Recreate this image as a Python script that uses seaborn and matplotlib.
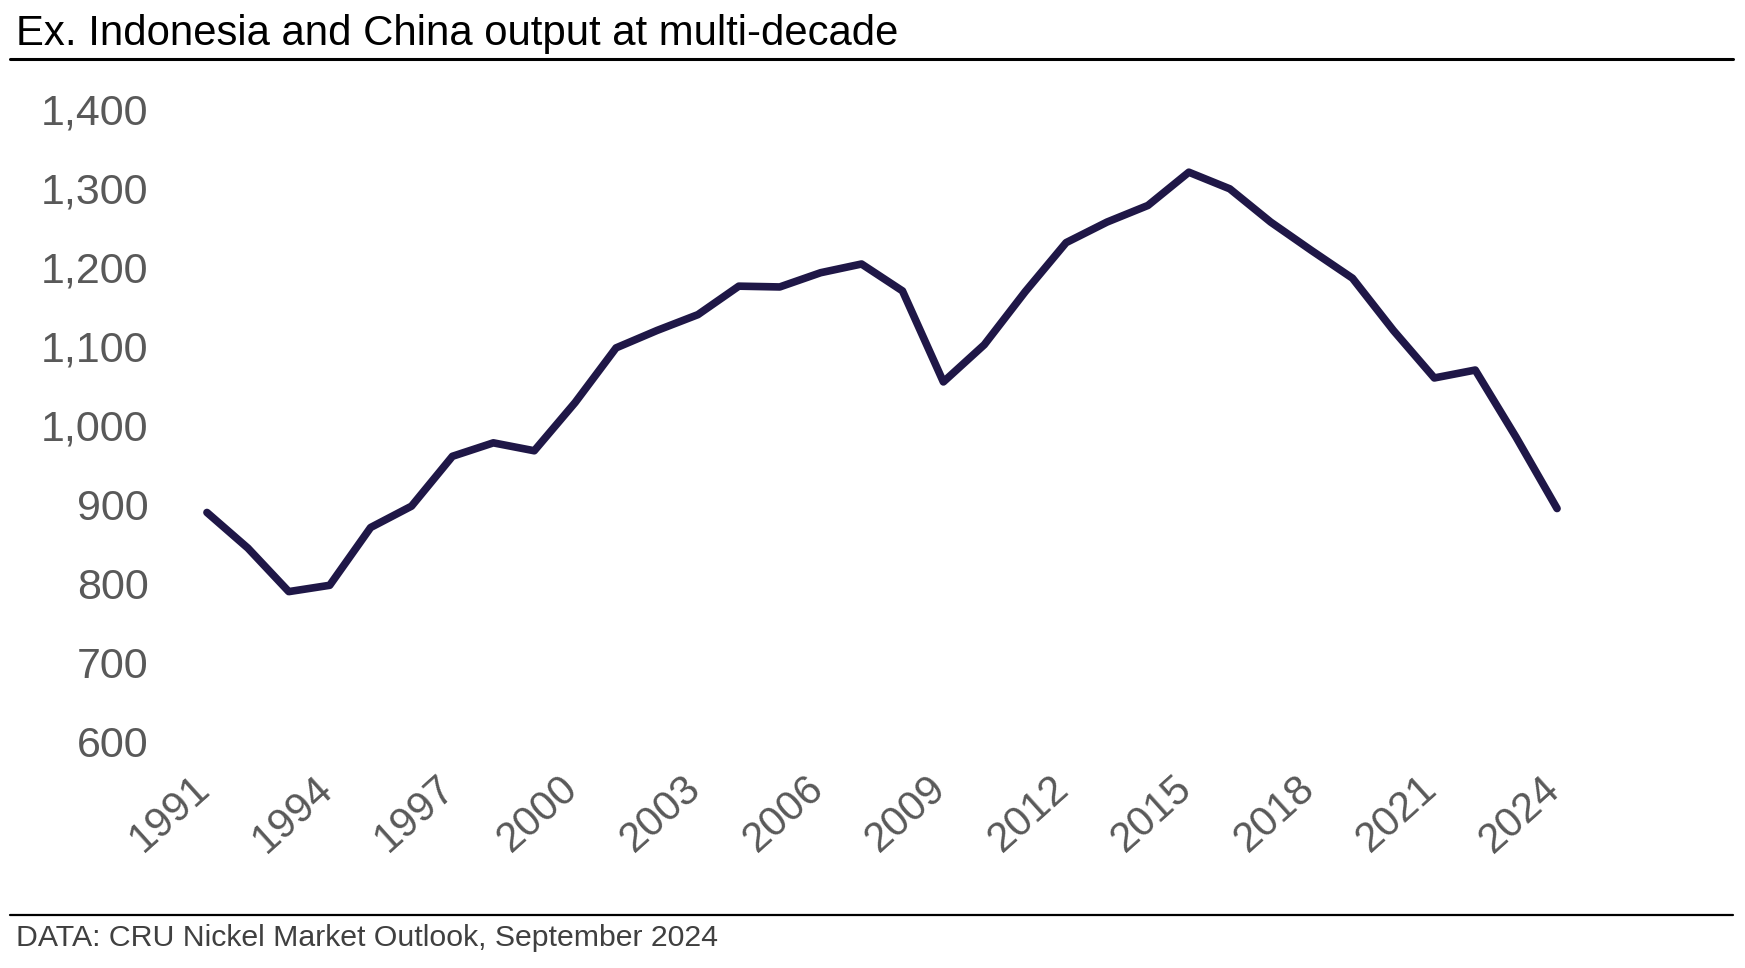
import matplotlib
matplotlib.use('Agg')
import matplotlib.pyplot as plt
import matplotlib.transforms as mtransforms
import seaborn as sns
import pandas as pd

# Nickel output excluding Indonesia and China (kt)
years = list(range(1991, 2025))
output = [890, 845, 790, 798, 871, 898, 961, 978, 968, 1029,
          1098, 1120, 1140, 1176, 1175, 1193, 1204, 1170, 1055, 1102,
          1169, 1231, 1257, 1278, 1320, 1299, 1257, 1221, 1186, 1120,
          1060, 1070, 985, 895]
tick_years = list(range(1991, 2025, 3))
yticks = [600, 700, 800, 900, 1000, 1100, 1200, 1300, 1400]

df = pd.DataFrame({'year': years, 'output': output})

sns.set_style('white')
plt.rcParams['font.family'] = ['Liberation Sans', 'DejaVu Sans']

fig = plt.figure(figsize=(17.45, 9.68), dpi=100)
ax = fig.add_axes([0.1186, 0.2335, 0.7737, 0.654])

sns.lineplot(data=df, x='year', y='output', ax=ax, color='#1f1747',
             linewidth=5.5, solid_capstyle='round', solid_joinstyle='round')
for line in ax.lines:
    line.set_clip_on(False)

ax.set_xlim(1991, 2024)
ax.set_ylim(600, 1400)
ax.set_xticks(tick_years)
ax.set_xticklabels([str(y) for y in tick_years], rotation=42, ha='right',
                   rotation_mode='anchor', fontsize=30, color='#595959')
ax.set_yticks(yticks)
ax.set_yticklabels([f'{v:,}' for v in yticks], fontsize=31, color='#595959')
ax.tick_params(axis='y', length=0, pad=42)
ax.tick_params(axis='x', length=0, pad=19)
shift = mtransforms.ScaledTranslation(-16 / 100, 0, fig.dpi_scale_trans)
for lab in ax.get_xticklabels():
    lab.set_transform(lab.get_transform() + shift)
ax.set_xlabel('')
ax.set_ylabel('')
sns.despine(ax=ax, left=True, bottom=True)

# title, rules and source note
fig.text(0.009, 0.954, 'Ex. Indonesia and China output at multi-decade',
         fontsize=30.2, color='black', ha='left', va='baseline')
fig.add_artist(plt.Line2D([0.006, 0.993], [0.939, 0.939], color='black',
                          linewidth=2.2, transform=fig.transFigure))
fig.add_artist(plt.Line2D([0.006, 0.993], [0.055, 0.055], color='black',
                          linewidth=1.6, transform=fig.transFigure))
fig.text(0.009, 0.031, 'DATA: CRU Nickel Market Outlook, September 2024',
         fontsize=21.8, color='#404040', ha='left', va='center')

fig.savefig('out.png', dpi=100)
